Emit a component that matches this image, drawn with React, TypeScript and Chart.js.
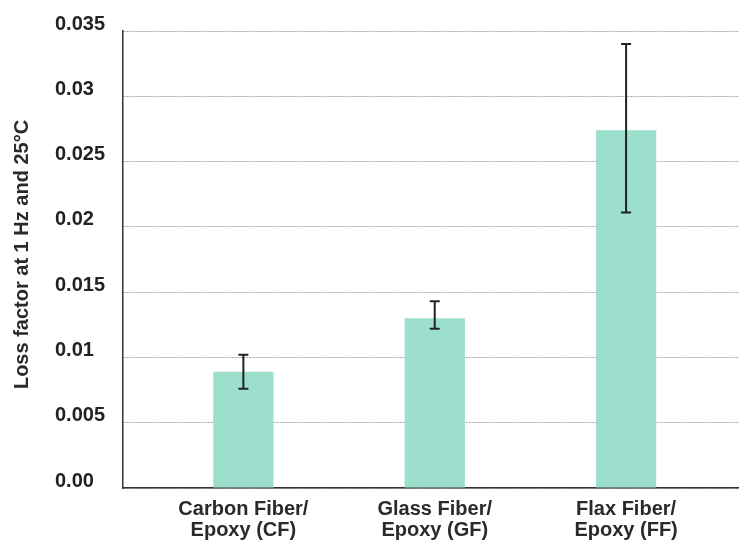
import React, { useEffect, useRef } from "react";
import { Chart, registerables } from "chart.js";

Chart.register(...registerables);

const CATEGORIES: string[][] = [
  ["Carbon Fiber/", "Epoxy (CF)"],
  ["Glass Fiber/", "Epoxy (GF)"],
  ["Flax Fiber/", "Epoxy (FF)"],
];
const LOSS_FACTOR = [0.0089, 0.0130, 0.0274];
const ERR_LOW = [0.0076, 0.0122, 0.0211];
const ERR_HIGH = [0.0102, 0.0143, 0.0340];
const Y_TICKS = [0, 0.005, 0.01, 0.015, 0.02, 0.025, 0.03, 0.035];
const Y_TICK_LABELS = ["0.00", "0.005", "0.01", "0.015", "0.02", "0.025", "0.03", "0.035"];
const Y_TITLE = "Loss factor at 1 Hz and 25°C";

const FONT = '"Liberation Sans", Arial, Helvetica, sans-serif';

const errorBarPlugin = {
  id: "errorBars",
  afterDatasetsDraw(chart: any) {
    const { ctx } = chart;
    const x = chart.scales.x;
    const y = chart.scales.y;
    ctx.save();
    ctx.strokeStyle = "#222";
    ctx.lineWidth = 2;
    LOSS_FACTOR.forEach((_, i) => {
      const px = x.getPixelForValue(i);
      const top = y.getPixelForValue(ERR_HIGH[i]);
      const bot = y.getPixelForValue(ERR_LOW[i]);
      ctx.beginPath();
      ctx.moveTo(px, top);
      ctx.lineTo(px, bot);
      ctx.moveTo(px - 5, top);
      ctx.lineTo(px + 5, top);
      ctx.moveTo(px - 5, bot);
      ctx.lineTo(px + 5, bot);
      ctx.stroke();
    });
    ctx.restore();
  },
};

const yTitlePlugin = {
  id: "yTitle",
  afterDraw(chart: any) {
    const { ctx, chartArea } = chart;
    ctx.save();
    ctx.translate(22, (chartArea.top + chartArea.bottom) / 2 - 5);
    ctx.rotate(-Math.PI / 2);
    ctx.font = `bold 20px ${FONT}`;
    ctx.fillStyle = "#2a2a2a";
    ctx.textAlign = "center";
    ctx.textBaseline = "middle";
    ctx.fillText(Y_TITLE, 0, 0);
    ctx.restore();
  },
};

export default function App() {
  const ref = useRef<HTMLCanvasElement>(null);

  useEffect(() => {
    if (!ref.current) return;
    const chart = new Chart(ref.current, {
      type: "bar",
      data: {
        datasets: [
          {
            data: LOSS_FACTOR.map((v, i) => ({ x: i, y: v })),
            backgroundColor: "#9ddfcd",
            borderWidth: 0,
            categoryPercentage: 1,
            barPercentage: 0.315,
          },
        ],
      },
      options: {
        animation: false,
        responsive: false,
        layout: { padding: { left: 55, top: 31, right: 0, bottom: 0 } },
        plugins: {
          legend: { display: false },
          tooltip: { enabled: false },
        },
        scales: {
          x: {
            type: "linear",
            min: -0.629,
            max: 2.59,
            offset: false,
            grid: { display: false, drawTicks: false },
            border: { display: true, color: "#333", width: 1.5 },
            afterBuildTicks: (axis: any) => {
              axis.ticks = CATEGORIES.map((_, i) => ({ value: i }));
            },
            afterFit: (scale: any) => {
              scale.height = 54;
            },
            ticks: {
              autoSkip: false,
              maxRotation: 0,
              padding: 11,
              color: "#2a2a2a",
              font: { family: FONT, size: 20, weight: "bold", lineHeight: 1.05 },
              callback: (v: any) => CATEGORIES[Math.round(Number(v))] ?? "",
            },
          },
          y: {
            type: "linear",
            min: 0,
            max: 0.035,
            grid: { color: "#a8a8a8", lineWidth: 1, drawTicks: false },
            border: { display: true, color: "#333", width: 1.5, dash: [2, 1] },
            afterBuildTicks: (axis: any) => {
              axis.ticks = Y_TICKS.map((v) => ({ value: v }));
            },
            afterFit: (scale: any) => {
              scale.width = 68;
            },
            ticks: {
              crossAlign: "far",
              labelOffset: -7,
              padding: 10,
              color: "#222",
              font: { family: FONT, size: 20, weight: "bold" },
              callback: (_v: any, i: number) => Y_TICK_LABELS[i],
            },
          },
        },
      },
      plugins: [errorBarPlugin, yTitlePlugin],
    } as any);
    return () => chart.destroy();
  }, []);

  return (
    <div style={{ position: "absolute", left: 0, top: 0, width: 739, height: 542, background: "#fff" }}>
      <canvas ref={ref} width={739} height={542} style={{ display: "block" }} />
    </div>
  );
}
